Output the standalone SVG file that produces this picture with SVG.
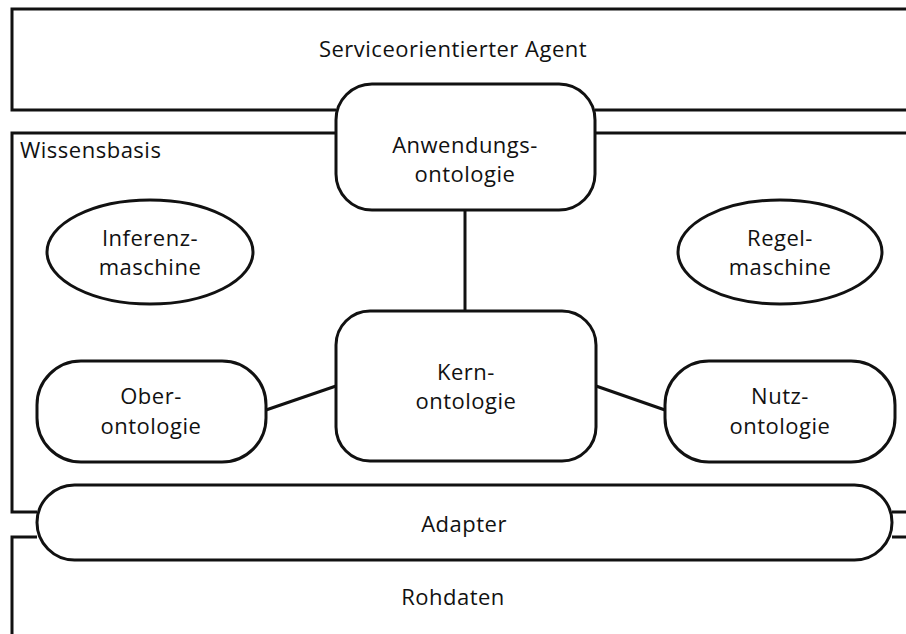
<svg xmlns="http://www.w3.org/2000/svg" width="906" height="634" viewBox="0 0 906 634">
  <style>
    .frame { fill: none; stroke: #111; stroke-width: 3; }
    .shape { fill: #fff; stroke: #111; stroke-width: 3; }
    .edge { fill: none; stroke: #111; stroke-width: 3; }
    text { font-family: "Open Sans", "Noto Sans", sans-serif; font-size: 22px; letter-spacing: 0.5px; fill: #111; text-anchor: middle; }
    .left { text-anchor: start; }
  </style>
  <rect width="906" height="634" fill="#fff"/>

  <!-- layer frames -->
  <g id="agent">
    <path class="frame" d="M906,9 H12 V110 H336 M595,110 H906"/>
    <text x="453" y="57">Serviceorientierter Agent</text>
  </g>
  <g id="wissensbasis">
    <path class="frame" d="M336,133 H12 V512 H37 M595,133 H906 M892,512 H906"/>
    <text class="left" x="20" y="158">Wissensbasis</text>
  </g>
  <g id="rohdaten">
    <path class="frame" d="M37,537 H12 V640 M892,537 H906"/>
    <text x="453" y="605">Rohdaten</text>
  </g>

  <!-- connectors -->
  <g id="connectors">
    <line class="edge" x1="465" y1="210" x2="465" y2="311"/>
    <line class="edge" x1="266" y1="410" x2="336" y2="386"/>
    <line class="edge" x1="596" y1="386" x2="665" y2="410"/>
  </g>

  <g id="anwendungsontologie">
    <rect class="shape" x="336" y="84" width="259" height="126" rx="36"/>
    <text x="465" y="153">Anwendungs-</text>
    <text x="465" y="182">ontologie</text>
  </g>
  <g id="inferenzmaschine">
    <ellipse class="shape" cx="150" cy="252" rx="103" ry="52"/>
    <text x="150" y="246">Inferenz-</text>
    <text x="150" y="275">maschine</text>
  </g>
  <g id="regelmaschine">
    <ellipse class="shape" cx="780" cy="252" rx="102" ry="52"/>
    <text x="780" y="246">Regel-</text>
    <text x="780" y="275">maschine</text>
  </g>
  <g id="kernontologie">
    <rect class="shape" x="336" y="311" width="260" height="150" rx="34"/>
    <text x="466" y="380">Kern-</text>
    <text x="466" y="409">ontologie</text>
  </g>
  <g id="oberontologie">
    <rect class="shape" x="37" y="361" width="229" height="101" rx="44"/>
    <text x="151" y="404">Ober-</text>
    <text x="151" y="434">ontologie</text>
  </g>
  <g id="nutzontologie">
    <rect class="shape" x="665" y="361" width="230" height="101" rx="44"/>
    <text x="780" y="404">Nutz-</text>
    <text x="780" y="434">ontologie</text>
  </g>
  <g id="adapter">
    <rect class="shape" x="37" y="485" width="855" height="75" rx="37.5"/>
    <text x="464" y="532">Adapter</text>
  </g>
</svg>
